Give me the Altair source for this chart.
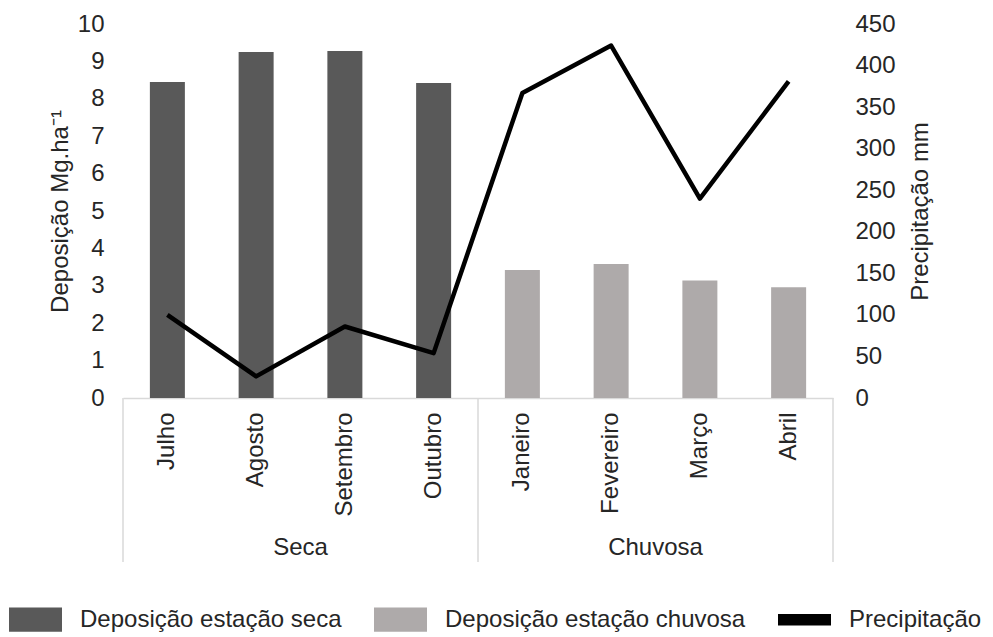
import altair as alt
import pandas as pd

# Monthly litter deposition (Mg/ha) and rainfall (mm), grouped by season
meses = ["Julho", "Agosto", "Setembro", "Outubro", "Janeiro", "Fevereiro", "Março", "Abril"]
estacoes = ["Seca", "Seca", "Seca", "Seca", "Chuvosa", "Chuvosa", "Chuvosa", "Chuvosa"]
deposicao = [8.45, 9.25, 9.28, 8.42, 3.42, 3.58, 3.14, 2.96]
precipitacao = [100, 26, 86, 54, 367, 424, 240, 381]

grupos = ["Seca", "Chuvosa"]
series = ["Deposição estação seca", "Deposição estação chuvosa", "Precipitação"]
cores = ["#595959", "#aeaaaa", "#000000"]
# legend keys: wide boxes for the bars, a thinner bar for the rainfall line
formas = ["M-1,-0.46H1V0.46H-1Z", "M-1,-0.46H1V0.46H-1Z", "M-1,-0.22H1V0.22H-1Z"]

FONT = "Liberation Sans"
TXT = "#262626"

df = pd.DataFrame({
    "mes": meses,
    "estacao": estacoes,
    "deposicao": deposicao,
    "precipitacao": precipitacao,
})

# group boundaries and centres taken from the month list
inicio = [next(m for m, e in zip(meses, estacoes) if e == g) for g in grupos]
centro = []
for g in grupos:
    ms = [m for m, e in zip(meses, estacoes) if e == g]
    centro.append(ms[len(ms) // 2])

x_scale = alt.Scale(domain=meses, paddingInner=0, paddingOuter=0)
x_axis = alt.Axis(labelAngle=-90, labelAlign="right", labelBaseline="middle",
                  labelPadding=14, ticks=False, grid=False,
                  domainColor="#d9d9d9", domainWidth=1.5,
                  labelFont=FONT, labelFontSize=24, labelColor=TXT)


def x_enc(pos=0.5):
    return alt.X("mes:N", scale=x_scale, axis=x_axis, title=None, bandPosition=pos)


barras = alt.Chart(df).mark_bar(size=35).encode(
    x=x_enc(),
    y=alt.Y("deposicao:Q", scale=alt.Scale(domain=[0, 10], nice=False),
            axis=alt.Axis(values=list(range(0, 11)), grid=False, domain=False, ticks=False,
                          labelPadding=19, labelFont=FONT, labelFontSize=24, labelColor=TXT,
                          title="Deposição Mg.ha⁻¹", titleFont=FONT, titleFontSize=24,
                          titleFontWeight="normal", titleColor=TXT, titleAngle=-90,
                          titleBaseline="middle", titleAlign="center",
                          titleX=-63, titleY=187)),
    color=alt.condition(alt.datum.estacao == "Seca", alt.value(cores[0]), alt.value(cores[1])),
)

linha = alt.Chart(df).mark_line(strokeWidth=4.5, color=cores[2], strokeJoin="round").encode(
    x=x_enc(),
    y=alt.Y("precipitacao:Q", scale=alt.Scale(domain=[0, 450], nice=False),
            axis=alt.Axis(orient="right", values=list(range(0, 451, 50)), grid=False,
                          domain=False, ticks=False, labelPadding=22, labelFont=FONT,
                          labelFontSize=24, labelColor=TXT,
                          title="Precipitação mm", titleFont=FONT, titleFontSize=24,
                          titleFontWeight="normal", titleColor=TXT, titleAngle=-90,
                          titleBaseline="middle", titleAlign="center",
                          titleX=87, titleY=187)),
)

# vertical separators of the two-level category axis
sep_ini = alt.Chart(pd.DataFrame({"mes": inicio})).mark_rule(color="#d9d9d9", strokeWidth=1.5).encode(
    x=x_enc(0), y=alt.value(374), y2=alt.value(538),
)
sep_fim = alt.Chart(pd.DataFrame({"mes": [meses[-1]]})).mark_rule(color="#d9d9d9", strokeWidth=1.5).encode(
    x=x_enc(1), y=alt.value(374), y2=alt.value(538),
)

rotulos = alt.Chart(pd.DataFrame({"mes": centro, "grupo": grupos})).mark_text(
    font=FONT, fontSize=24, color=TXT, baseline="middle", align="center"
).encode(
    x=x_enc(0),
    y=alt.value(524),
    text="grupo:N",
)

# legend carrier: no rows drawn, only the colour/shape scales for the legend
leg = alt.Legend(title=None, orient="none", direction="horizontal",
                 legendX=-114, legendY=569, padding=0,
                 symbolSize=2809, symbolStrokeWidth=0,
                 labelOffset=18, columnPadding=32, labelLimit=0,
                 labelFont=FONT, labelFontSize=24, labelColor=TXT)
legenda = alt.Chart(pd.DataFrame({"serie": series})).transform_filter("false").mark_point(
    filled=True, opacity=1
).encode(
    color=alt.Color("serie:N", scale=alt.Scale(domain=series, range=cores), legend=leg),
    shape=alt.Shape("serie:N", scale=alt.Scale(domain=series, range=formas), legend=leg),
)

chart = alt.layer(barras, linha, sep_ini, sep_fim, rotulos, legenda).resolve_scale(
    y="independent"
).properties(
    width=710,
    height=374,
    padding={"left": 123, "top": 24, "right": 160, "bottom": 239},
    autosize=alt.AutoSizeParams(type="none"),
    background="white",
).configure_view(stroke=None)

chart.save("out.html", embed_options={"renderer": "svg", "actions": False})
